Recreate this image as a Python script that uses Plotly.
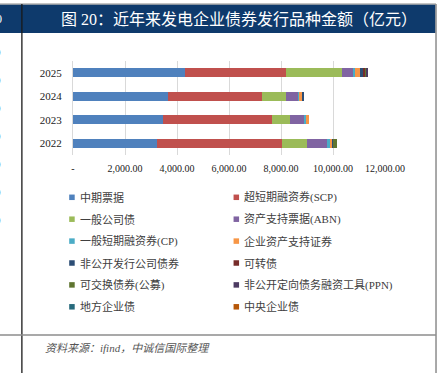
import plotly.graph_objects as go

years = ["2022", "2023", "2024", "2025"]
series_names = [
    "中期票据", "超短期融资券(SCP)",
    "一般公司债", "资产支持票据(ABN)",
    "一般短期融资券(CP)", "企业资产支持证券",
    "非公开发行公司债券", "可转债",
    "可交换债券(公募)", "非公开定向债务融资工具(PPN)",
    "地方企业债", "中央企业债",
]
mtn = [3240, 3470, 3660, 4315]
scp = [4815, 4190, 3610, 3870]
corp = [950, 695, 935, 2170]
abn = [780, 550, 465, 395]
cp = [115, 40, 35, 115]
abs_ = [75, 150, 90, 155]
private_corp = [25, 0, 90, 130]
convertible = [0, 0, 0, 115]
exchangeable = [140, 0, 0, 20]
ppn = [0, 0, 0, 40]
local_ent = [0, 0, 0, 0]
central_ent = [0, 0, 0, 0]
series_values = [mtn, scp, corp, abn, cp, abs_, private_corp, convertible,
                 exchangeable, ppn, local_ent, central_ent]
colors = ["#4F81BD", "#C0504D", "#9BBB59", "#8064A2", "#4BACC6", "#F79646",
          "#2C4D75", "#772C2A", "#5F7530", "#4D3B62", "#276A7C", "#B65708"]
x_tickvals = [0, 2000, 4000, 6000, 8000, 10000, 12000]
x_ticktext = ["-", "2,000.00", "4,000.00", "6,000.00", "8,000.00", "10,000.00", "12,000.00"]
title_text = "图 20：近年来发电企业债券发行品种金额（亿元）"
source_text = "<i>资料来源：ifind，中诚信国际整理</i>"

W, H = 446, 373
L, R, T, B = 73.3, 61.4, 61, 218
PW, PH = W - L - R, H - T - B

def fx(px):
    return (px - L) / PW

def fy(py):
    return 1 - (py - T) / PH

FONT = "Liberation Serif, Noto Sans CJK SC, serif"

fig = go.Figure()
for name, vals, col in zip(series_names, series_values, colors):
    fig.add_trace(go.Bar(
        y=years, x=vals, name=name, orientation="h",
        marker=dict(color=col, line=dict(width=0)),
        showlegend=False,
    ))

shapes = []
annotations = []

# header bar
shapes.append(dict(type="rect", xref="paper", yref="paper",
                   x0=fx(-5), x1=fx(435), y0=fy(33), y1=fy(4.5),
                   fillcolor="#0E3A6C", line=dict(width=0), layer="above"))
shapes.append(dict(type="line", xref="paper", yref="paper",
                   x0=fx(-5), x1=fx(435.5), y0=fy(4), y1=fy(4),
                   line=dict(color="#8C8C8C", width=1.2)))
# frame lines
shapes.append(dict(type="line", xref="paper", yref="paper",
                   x0=fx(22.3), x1=fx(22.3), y0=fy(4), y1=fy(380),
                   line=dict(color="#1A1A1A", width=1.3)))
shapes.append(dict(type="line", xref="paper", yref="paper",
                   x0=fx(435.5), x1=fx(435.5), y0=fy(4), y1=fy(380),
                   line=dict(color="#8C8C8C", width=1.5)))
shapes.append(dict(type="line", xref="paper", yref="paper",
                   x0=fx(-5), x1=fx(435.5), y0=fy(335), y1=fy(335),
                   line=dict(color="#8C8C8C", width=1.5)))

annotations.append(dict(xref="paper", yref="paper", x=fx(239), y=fy(19),
                        text=title_text, showarrow=False, xanchor="center", yanchor="middle",
                        font=dict(family=FONT, size=16, color="white")))
annotations.append(dict(xref="paper", yref="paper", x=fx(4), y=fy(19),
                        text="0", showarrow=False, xanchor="right", yanchor="middle",
                        font=dict(family=FONT, size=12, color="white")))
for i in range(7):
    annotations.append(dict(xref="paper", yref="paper", x=fx(3.5), y=fy(52 + i * 28),
                            text="0", showarrow=False, xanchor="right", yanchor="middle",
                            font=dict(family=FONT, size=11, color="#222222")))

# custom legend
for i, (name, col) in enumerate(zip(series_names, colors)):
    row, c = divmod(i, 2)
    mx = 69.5 if c == 0 else 233.5
    yc = 197.3 + row * 21.9
    shapes.append(dict(type="rect", xref="paper", yref="paper",
                       x0=fx(mx), x1=fx(mx + 5.5), y0=fy(yc + 2.75), y1=fy(yc - 2.75),
                       fillcolor=col, line=dict(width=0)))
    annotations.append(dict(xref="paper", yref="paper", x=fx(mx + 8.5), y=fy(yc),
                            text=name, showarrow=False, xanchor="left", yanchor="middle",
                            font=dict(family=FONT, size=11, color="#404040")))

annotations.append(dict(xref="paper", yref="paper", x=fx(43), y=fy(348),
                        text=source_text, showarrow=False, xanchor="left", yanchor="middle",
                        font=dict(family=FONT, size=11, color="#555555")))

fig.update_layout(
    width=W, height=H,
    margin=dict(l=L, r=R, t=T, b=B, autoexpand=False),
    barmode="stack", bargap=0.6,
    paper_bgcolor="white", plot_bgcolor="white",
    font=dict(family=FONT, size=11, color="#222222"),
    shapes=shapes, annotations=annotations,
    showlegend=False,
    xaxis=dict(range=[0, 12000], tickvals=x_tickvals, ticktext=x_ticktext,
               showgrid=True, gridcolor="#D9D9D9", gridwidth=1, zeroline=False,
               showline=False, ticks="", ticklabelstandoff=6, automargin=False,
               tickfont=dict(family=FONT, size=10, color="#222222")),
    yaxis=dict(type="category", categoryorder="array", categoryarray=years,
               range=[-0.5, 3.5], showgrid=False, zeroline=False,
               showline=True, linecolor="#D9D9D9", linewidth=1, ticks="",
               ticklabelstandoff=8, automargin=False,
               tickfont=dict(family=FONT, size=11, color="#222222")),
)

fig.write_html("out.html", config={"displayModeBar": False},
               post_script="document.body.style.margin='0px';document.body.style.overflow='hidden';")
